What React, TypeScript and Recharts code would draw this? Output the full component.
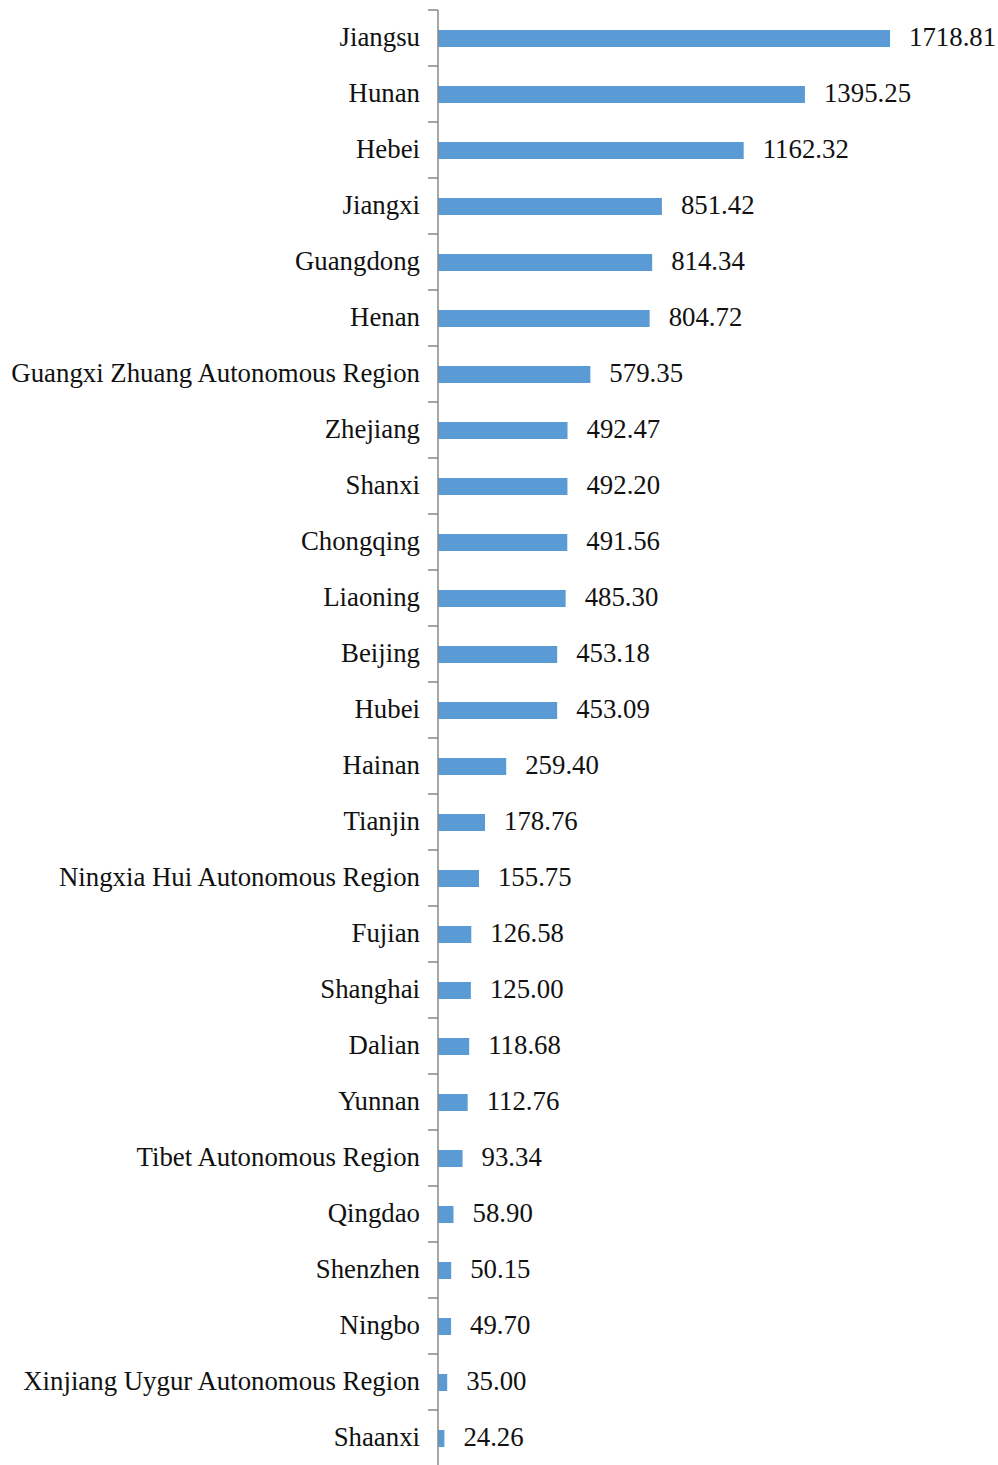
import {BarChart, Bar, XAxis, YAxis, LabelList} from "recharts";

const REGIONS = [
    "Jiangsu","Hunan","Hebei","Jiangxi","Guangdong","Henan",
    "Guangxi Zhuang Autonomous Region","Zhejiang","Shanxi","Chongqing",
    "Liaoning","Beijing","Hubei","Hainan","Tianjin",
    "Ningxia Hui Autonomous Region","Fujian","Shanghai","Dalian","Yunnan",
    "Tibet Autonomous Region","Qingdao","Shenzhen","Ningbo",
    "Xinjiang Uygur Autonomous Region","Shaanxi",
];

const VALUES = [
    1718.81,1395.25,1162.32,851.42,814.34,804.72,
    579.35,492.47,492.20,491.56,
    485.30,453.18,453.09,259.40,178.76,
    155.75,126.58,125.00,118.68,112.76,
    93.34,58.90,50.15,49.70,
    35.00,24.26,
];

const FONT = "'Liberation Serif', 'Times New Roman', serif";
const BAND = 56;

const data = REGIONS.map((name, i) => ({name, value: VALUES[i]}));

// label text at the band centre, tick mark on the band boundary above it
function RegionTick(props: any) {
    const {x, y, payload} = props;
    return (
        <g>
            <line x1={x + 8} x2={x + 18} y1={y - BAND / 2} y2={y - BAND / 2} stroke="#888" strokeWidth={1.5}/>
            <text x={x} y={y} dy="0.28em" textAnchor="end" fontFamily={FONT} fontSize={26.8} fill="#111">
                {payload.value}
            </text>
        </g>
    )
}

export default function App() {
    return (
        <div style={{position:"absolute", left:0, top:0, width:998, height:1465, overflow:"hidden", background:"#fff"}}>
            <BarChart width={998} height={1480} data={data} layout="vertical"
                margin={{top:10, right:34, bottom:1480 - 10 - BAND * REGIONS.length, left:0}}>
                <XAxis type="number" hide domain={[0, 2000]}/>
                <YAxis type="category" dataKey="name" width={438} tickSize={10} tickMargin={8}
                    tickLine={false} axisLine={{stroke:"#888", strokeWidth:1.5}}
                    interval={0} tick={<RegionTick/>}/>
                <Bar dataKey="value" fill="#5B9BD5" barSize={17} isAnimationActive={false}>
                    <LabelList dataKey="value" position="right" offset={19} dy={-2}
                        formatter={(v: any) => Number(v).toFixed(2)}
                        style={{fontFamily:FONT, fontSize:26.8, fill:"#111"}}/>
                </Bar>
            </BarChart>
        </div>
    )
}
